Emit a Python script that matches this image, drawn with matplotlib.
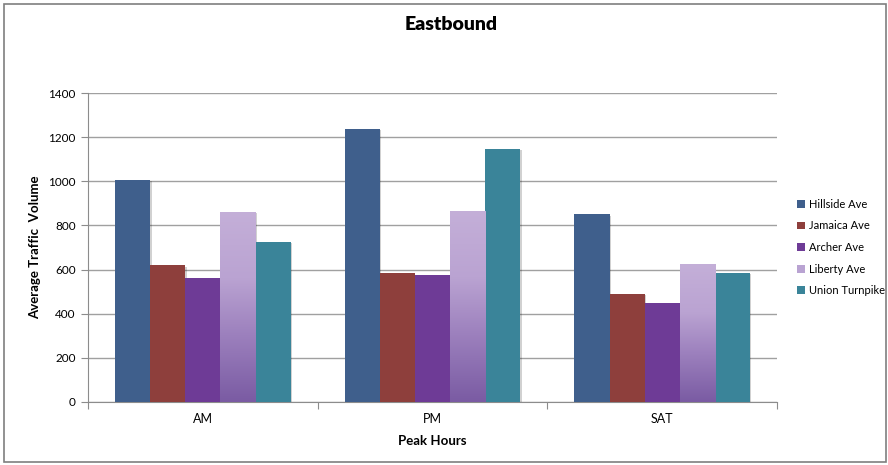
import numpy as np
import matplotlib
matplotlib.use("Agg")
import matplotlib.pyplot as plt
import matplotlib.patheffects as pe
from matplotlib.colors import LinearSegmentedColormap
from matplotlib.patches import Rectangle

plt.rcParams['font.family'] = ['Lato', 'DejaVu Sans']

# average traffic volume per peak period
periods = ['AM', 'PM', 'SAT']
streets = ['Hillside Ave', 'Jamaica Ave', 'Archer Ave', 'Liberty Ave', 'Union Turnpike']
hillside = [1008, 1237, 850]
jamaica = [620, 583, 489]
archer = [562, 576, 449]
liberty = [861, 866, 625]
union = [725, 1147, 584]

colors = ['#3f5f8c', '#8e3f3c', '#6e3b96', '#b9a3d2', '#3a8499']

fig = plt.figure(figsize=(8.88, 4.65), dpi=100)
ax = fig.add_axes([0.0991, 0.1355, 0.776, 0.6645])

x = np.arange(len(periods))
n = len(streets)
width = 0.153
series = [hillside, jamaica, archer, liberty, union]

liberty_cmap = LinearSegmentedColormap.from_list(
    'liberty', [(0.0, '#7a5ba3'), (0.35, '#9c80bd'), (0.65, '#baa3d2'), (1.0, '#c4afd8')])

shadow = [pe.SimplePatchShadow(offset=(1, -1), shadow_rgbFace='#000000', alpha=0.18),
          pe.Normal()]

for i, (name, vals) in enumerate(zip(streets, series)):
    pos = x + (i - (n - 1) / 2) * width
    bars = ax.bar(pos, vals, width, color=colors[i], label=name, zorder=3,
                  edgecolor='none')
    for b in bars:
        b.set_path_effects(shadow)
    if name == 'Liberty Ave':
        # vertical gradient fill clipped to each bar
        for b in bars:
            grad = np.linspace(0, 1, 256).reshape(-1, 1)
            x0 = b.get_x()
            im = ax.imshow(grad, cmap=liberty_cmap, origin='lower', aspect='auto',
                           extent=[x0, x0 + b.get_width(), 0, b.get_height()],
                           zorder=3.5)
            im.set_clip_path(b)

ax.set_xlim(-0.5, 2.5)
ax.set_ylim(0, 1400)
ax.set_yticks(range(0, 1401, 200))
ax.yaxis.grid(True, color='#a0a0a0', linewidth=1.0, zorder=0)
ax.set_axisbelow(True)

# category boundaries as major ticks, labels at the centers
ax.set_xticks([-0.5, 0.5, 1.5, 2.5])
ax.set_xticklabels([])
ax.set_xticks(x, minor=True)
ax.set_xticklabels(periods, minor=True, fontsize=9)
ax.tick_params(axis='x', which='minor', length=0, pad=8)
ax.tick_params(axis='x', which='major', length=5, color='#8c8c8c')
ax.tick_params(axis='y', length=5, color='#8c8c8c', labelsize=8.5, pad=4)

for side in ['top', 'right']:
    ax.spines[side].set_visible(False)
for side in ['left', 'bottom']:
    ax.spines[side].set_color('#8c8c8c')

ax.set_xlabel('Peak Hours', fontsize=9.5, fontweight='bold', labelpad=7)
ax.set_ylabel('Average Traffic  Volume', fontsize=9.5, fontweight='bold', labelpad=5)
fig.text(0.508, 0.947, 'Eastbound', ha='center', va='center',
         fontsize=14, fontweight='heavy')

leg = ax.legend(loc='center left', bbox_to_anchor=(1.015, 0.5), frameon=False,
                fontsize=8, handlelength=0.7, handleheight=0.7, handletextpad=0.35,
                labelspacing=0.95)
for h in leg.legend_handles:
    h.set_path_effects([])

# outer chart border
fig.patches.append(Rectangle((4 / 888, 3 / 465), 882 / 888, 458 / 465,
                             transform=fig.transFigure, fill=False,
                             edgecolor='#7f7f7f', linewidth=1.2))

fig.savefig('out.png', dpi=100)
